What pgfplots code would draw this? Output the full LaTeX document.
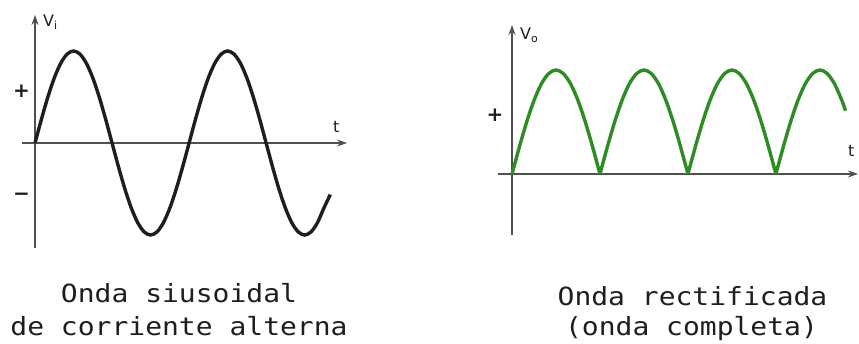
\documentclass[border=0pt]{standalone}
\usepackage{pgfplots}
\pgfplotsset{compat=1.18}
\usepackage{fontspec}
\setmainfont{DejaVu Sans}
\newfontfamily\mono[FakeStretch=1.12]{DejaVu Sans Mono}
\usetikzlibrary{arrows.meta}
\definecolor{axgray}{RGB}{80,80,80}
\definecolor{wavegreen}{RGB}{45,140,35}
\definecolor{ink}{RGB}{30,30,30}
\begin{document}
\begin{tikzpicture}
\useasboundingbox (0,0) rectangle (859pt,343pt);
% left: sinusoidal wave
\begin{axis}[scale only axis, axis lines=middle, xtick=\empty, ytick=\empty,
  clip=false, anchor=south west,
  axis line style={axgray, line width=2.4pt, -{Stealth[length=10pt,width=7pt]}},
  at={(22pt,95pt)}, width=325pt, height=233pt,
  xmin=-2.03, xmax=48.6, ymin=-1.141, ymax=1.391]
\addplot[ink, line width=3.4pt, smooth] coordinates {
(0,0) (1,0.2588) (2,0.5) (3,0.7071) (4,0.866) (5,0.9659) (6,1) (7,0.9659) (8,0.866) (9,0.7071) (10,0.5) (11,0.2588)
(12,0) (13,-0.2588) (14,-0.5) (15,-0.7071) (16,-0.866) (17,-0.9659) (18,-1) (19,-0.9659) (20,-0.866) (21,-0.7071) (22,-0.5) (23,-0.2588)
(24,0) (25,0.2588) (26,0.5) (27,0.7071) (28,0.866) (29,0.9659) (30,1) (31,0.9659) (32,0.866) (33,0.7071) (34,0.5) (35,0.2588)
(36,0) (37,-0.2588) (38,-0.5) (39,-0.7071) (40,-0.866) (41,-0.9659) (42,-1) (43,-0.9659) (44,-0.866) (45,-0.7071) (46,-0.56)
};
\end{axis}
% right: full-wave rectified
\begin{axis}[scale only axis, axis lines=middle, xtick=\empty, ytick=\empty,
  clip=false, anchor=south west,
  axis line style={axgray, line width=2.4pt, -{Stealth[length=10pt,width=7pt]}},
  at={(498pt,108pt)}, width=360pt, height=210pt,
  xmin=-1.91, xmax=47.2, ymin=-0.587, ymax=1.433]
\addplot[wavegreen, line width=3.4pt, smooth] coordinates {
(0,0) (1,0.2588) (2,0.5) (3,0.7071) (4,0.866) (5,0.9659) (6,1) (7,0.9659) (8,0.866) (9,0.7071) (10,0.5) (11,0.2588) (12,0)};
\addplot[wavegreen, line width=3.4pt, smooth] coordinates {
(12,0) (13,0.2588) (14,0.5) (15,0.7071) (16,0.866) (17,0.9659) (18,1) (19,0.9659) (20,0.866) (21,0.7071) (22,0.5) (23,0.2588) (24,0)};
\addplot[wavegreen, line width=3.4pt, smooth] coordinates {
(24,0) (25,0.2588) (26,0.5) (27,0.7071) (28,0.866) (29,0.9659) (30,1) (31,0.9659) (32,0.866) (33,0.7071) (34,0.5) (35,0.2588) (36,0)};
\addplot[wavegreen, line width=3.4pt, smooth] coordinates {
(36,0) (37,0.2588) (38,0.5) (39,0.7071) (40,0.866) (41,0.9659) (42,1) (43,0.9659) (44,0.866) (45,0.7071) (45.5,0.6088)};
\end{axis}
% axis labels
\begin{scope}[every node/.style={inner sep=0pt, text=ink}]
\node[anchor=base west] at (43pt,316pt) {\fontsize{16}{18}\selectfont V\raisebox{-3pt}{\fontsize{11}{12}\selectfont i}};
\node[anchor=base west] at (520pt,303pt) {\fontsize{16}{18}\selectfont V\raisebox{-3pt}{\fontsize{11}{12}\selectfont o}};
\node[anchor=base west] at (333pt,210pt) {\fontsize{16}{18}\selectfont t};
\node[anchor=base west] at (848pt,186pt) {\fontsize{16}{18}\selectfont t};
\node at (21.5pt,252pt) {\fontsize{20}{22}\selectfont\bfseries +};
\node at (21.5pt,146pt) {\fontsize{20}{22}\selectfont\bfseries −};
\node at (495pt,228pt) {\fontsize{20}{22}\selectfont\bfseries +};
% captions
\node[anchor=base] at (179pt,41pt) {\mono\fontsize{25}{30}\selectfont Onda siusoidal};
\node[anchor=base] at (179pt,8pt) {\mono\fontsize{25}{30}\selectfont de corriente alterna};
\node[anchor=base] at (692.5pt,38pt) {\mono\fontsize{25}{30}\selectfont Onda rectificada};
\node[anchor=base] at (691.5pt,8pt) {\mono\fontsize{25}{30}\selectfont (onda completa)};
\end{scope}
\end{tikzpicture}
\end{document}
